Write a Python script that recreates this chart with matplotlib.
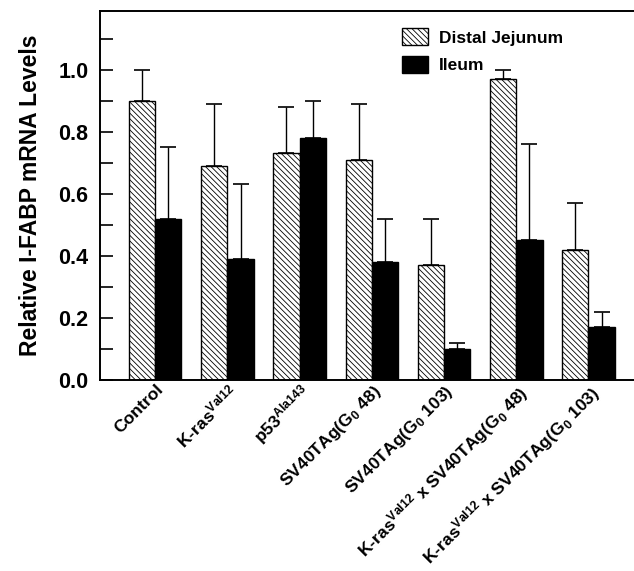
import numpy as np
import matplotlib
matplotlib.use("Agg")
import matplotlib.pyplot as plt

plt.rcParams['font.family'] = ['Liberation Sans', 'DejaVu Sans']
plt.rcParams['mathtext.default'] = 'regular'
plt.rcParams['hatch.linewidth'] = 0.6

groups = ["Control",
          r"K-ras$^{Val12}$",
          r"p53$^{Ala143}$",
          r"SV40TAg(G$_0$ 48)",
          r"SV40TAg(G$_0$ 103)",
          r"K-ras$^{Val12}$ x SV40TAg(G$_0$ 48)",
          r"K-ras$^{Val12}$ x SV40TAg(G$_0$ 103)"]
jejunum = [0.90, 0.69, 0.73, 0.71, 0.37, 0.97, 0.42]
jejunum_err = [0.10, 0.20, 0.15, 0.18, 0.15, 0.03, 0.15]
ileum = [0.52, 0.39, 0.78, 0.38, 0.10, 0.45, 0.17]
ileum_err = [0.23, 0.24, 0.12, 0.14, 0.02, 0.31, 0.05]

x = np.arange(len(groups))
w = 0.364

fig = plt.figure(figsize=(6.34, 5.71), dpi=100)
ax = fig.add_axes([0.157, 0.335, 0.843, 0.646])

ax.bar(x - w / 2, jejunum, w, color='white', edgecolor='black',
       hatch='\\\\\\\\\\\\', linewidth=1.0, label='Distal Jejunum',
       yerr=[np.zeros(len(x)), jejunum_err],
       error_kw=dict(ecolor='black', elinewidth=1.0, capsize=5.5, capthick=1.2))
ax.bar(x + w / 2, ileum, w, color='black', edgecolor='black',
       linewidth=1.0, label='Ileum',
       yerr=[np.zeros(len(x)), ileum_err],
       error_kw=dict(ecolor='black', elinewidth=1.0, capsize=5.5, capthick=1.2))

ax.set_xlim(-0.77, 6.63)
ax.set_ylim(0, 1.19)
ax.set_yticks(np.arange(0, 1.01, 0.2))
ax.set_yticks(np.arange(0.1, 1.15, 0.2), minor=True)
ax.set_yticklabels([f"{v:.1f}" for v in np.arange(0, 1.01, 0.2)],
                   fontsize=15.5, fontweight='bold')
ax.tick_params(axis='y', which='both', direction='in', length=9, width=1.2, pad=8)
ax.tick_params(axis='x', length=0, pad=1.5)
ax.set_xticks(x)
ax.set_xticklabels(groups, rotation=45, ha='right', rotation_mode='anchor',
                   fontsize=12.6, fontweight='bold')
ax.set_ylabel('Relative I-FABP mRNA Levels', fontsize=16.5, fontweight='bold',
              labelpad=12)

ax.spines['right'].set_visible(False)
for s in ['left', 'top', 'bottom']:
    ax.spines[s].set_linewidth(1.4)

leg = ax.legend(loc='upper left', bbox_to_anchor=(0.537, 0.995), frameon=False,
                prop={'size': 12.5, 'weight': 'bold'}, handlelength=1.5,
                handleheight=1.1, labelspacing=0.6, handletextpad=0.6)

fig.savefig('out.png', dpi=100)
